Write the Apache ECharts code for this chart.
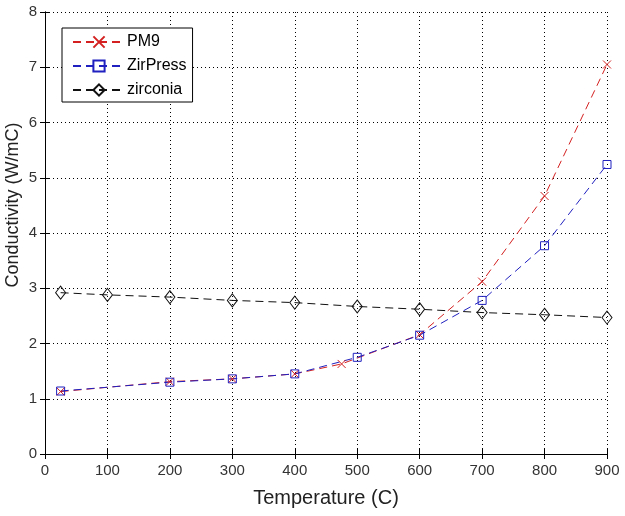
<!DOCTYPE html>
<html>
<head>
<meta charset="utf-8">
<script src="https://cdn.jsdelivr.net/npm/echarts@6/dist/echarts.min.js"></script>
<style>
  html, body { margin: 0; padding: 0; background: #fff; }
  #chart { width: 625px; height: 516px; }
</style>
</head>
<body>
<div id="chart"></div>
<script>
// temperature (C) vs conductivity (W/mC)
const pm9X = [25, 200, 300, 400, 475, 600, 700, 800, 900]
const pm9Y = [1.13, 1.31, 1.36, 1.45, 1.63, 2.16, 3.12, 4.67, 7.05]

const zirPressX = [25, 200, 300, 400, 500, 600, 700, 800, 900]
const zirPressY = [1.14, 1.3, 1.36, 1.45, 1.75, 2.15, 2.78, 3.77, 5.24]

const zirconiaX = [25, 100, 200, 300, 400, 500, 600, 700, 800, 900]
const zirconiaY = [2.92, 2.88, 2.84, 2.78, 2.74, 2.67, 2.62, 2.56, 2.52, 2.47]

const xTicks = [0, 100, 200, 300, 400, 500, 600, 700, 800, 900]
const yTicks = [0, 1, 2, 3, 4, 5, 6, 7, 8]

const font = 'Liberation Sans, Arial, sans-serif'
const pairs = (xs, ys) => xs.map((x, i) => [x, ys[i]])

function makeSeries(name, xs, ys, color, symbol, size) {
  return {
    name: name,
    type: 'line',
    data: pairs(xs, ys),
    symbol: symbol,
    symbolSize: size,
    showAllSymbol: true,
    lineStyle: { color: color, width: 1, type: [8, 5] },
    itemStyle: { color: 'transparent', borderColor: color, borderWidth: 1 },
    emphasis: { disabled: true },
    z: 3
  }
}

const frameAxis = {
  min: 0,
  axisLine: { show: true, lineStyle: { color: '#000', width: 1 } },
  axisTick: { show: true, inside: true, length: 5, lineStyle: { color: '#000' } },
  axisLabel: { show: false },
  splitLine: { show: false }
}

const option = {
  backgroundColor: '#fff',
  animation: false,
  grid: { left: 45, right: 18, top: 12, bottom: 62, containLabel: false, outerBoundsMode: 'none' },
  legend: {
    orient: 'vertical',
    left: 62,
    top: 28,
    padding: [6, 6, 4, 10],
    itemGap: 8,
    itemWidth: 52,
    itemHeight: 14,
    borderColor: '#000',
    borderWidth: 1,
    backgroundColor: '#fff',
    textStyle: { fontFamily: font, fontSize: 16, lineHeight: 16, color: '#000', padding: [0, 0, 0, -3] },
    data: ['PM9', 'ZirPress', 'zirconia']
  },
  xAxis: [
    {
      type: 'value',
      min: 0,
      max: 900,
      interval: 100,
      name: 'Temperature (C)',
      nameLocation: 'middle',
      nameGap: 34,
      nameTextStyle: { fontFamily: font, fontSize: 20, color: '#222' },
      axisLine: { show: true, onZero: false, lineStyle: { color: '#000', width: 1 } },
      axisTick: { show: true, inside: true, length: 5, lineStyle: { color: '#000' } },
      axisLabel: { fontFamily: font, fontSize: 15, color: '#333', margin: 9 },
      splitLine: { show: true, lineStyle: { color: '#000', type: [1, 3], width: 1 } }
    },
    Object.assign({}, frameAxis, { type: 'value', position: 'top', max: 900, interval: 100 })
  ],
  yAxis: [
    {
      type: 'value',
      min: 0,
      max: 8,
      interval: 1,
      name: 'Conductivity (W/mC)',
      nameLocation: 'middle',
      nameGap: 23,
      nameMoveOverlap: false,
      // label sits a bit above the middle of the axis in the original
      nameTextStyle: { fontFamily: font, fontSize: 18, color: '#222', padding: [0, 0, 0, 56] },
      axisLine: { show: true, onZero: false, lineStyle: { color: '#000', width: 1 } },
      axisTick: { show: true, inside: true, length: 5, lineStyle: { color: '#000' } },
      axisLabel: { fontFamily: font, fontSize: 15, color: '#333', margin: 8 },
      splitLine: { show: true, lineStyle: { color: '#000', type: [1, 3], width: 1 } }
    },
    Object.assign({}, frameAxis, { type: 'value', position: 'right', max: 8, interval: 1 })
  ],
  series: [
    makeSeries('PM9', pm9X, pm9Y, '#d42020', 'path://M0,0L10,10M10,0L0,10', 8),
    makeSeries('ZirPress', zirPressX, zirPressY, '#2020c0', 'rect', 8),
    makeSeries('zirconia', zirconiaX, zirconiaY, '#111', 'diamond', [10, 13])
  ]
}

const chart = echarts.init(document.getElementById('chart'))
chart.setOption(option)
</script>
</body>
</html>
